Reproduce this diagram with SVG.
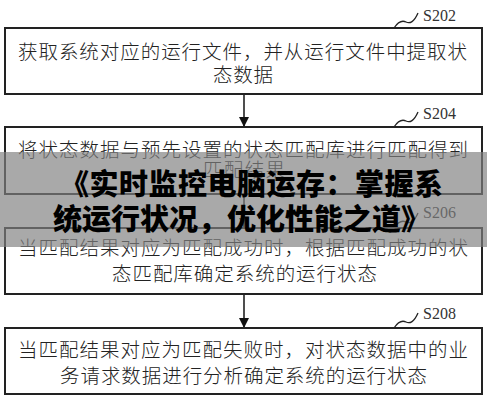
<svg xmlns="http://www.w3.org/2000/svg" width="487" height="400" viewBox="0 0 487 400">
<style>
.box{fill:#fff;stroke:#222;stroke-width:2}
.t{font-family:"Noto Sans CJK SC","Noto Sans",sans-serif;font-size:19.5px;font-weight:300;fill:#222;dominant-baseline:central}
.lbl{font-family:"Liberation Serif",serif;font-size:16px;fill:#333;dominant-baseline:central}
.sq{fill:none;stroke:#222;stroke-width:1.3}
.conn{stroke:#222;stroke-width:1.6;fill:none}
.ban{font-family:"Noto Sans CJK SC",sans-serif;font-size:29px;font-weight:900;fill:#000;dominant-baseline:central}
</style>
<defs>
<marker id="ah" markerWidth="10" markerHeight="12" refX="9" refY="5" orient="auto" markerUnits="userSpaceOnUse">
<path d="M0,0 L10,5 L0,10 Z" fill="#111"/>
</marker>
</defs>
<rect width="487" height="400" fill="#fff"/>
<g id="connectors">
<line class="conn" x1="244" y1="94" x2="244" y2="126" marker-end="url(#ah)"/>
<line class="conn" x1="244" y1="194" x2="244" y2="227" marker-end="url(#ah)"/>
<line class="conn" x1="244" y1="294" x2="244" y2="327" marker-end="url(#ah)"/>
</g>
<g id="s202">
<rect class="box" x="5" y="28" width="477" height="66"/>
<text class="t" x="18" y="50" textLength="449" lengthAdjust="spacing">获取系统对应的运行文件，并从运行文件中提取状</text>
<text class="t" x="213" y="73" textLength="60" lengthAdjust="spacing">态数据</text>
<path class="sq" d="M394,28 C398,22 402,20 406,22 C410,24 414,22 418,13"/>
<text class="lbl" x="423" y="15">S202</text>
</g>
<g id="s204">
<rect class="box" x="5" y="127" width="477" height="67"/>
<text class="t" x="18" y="148" textLength="450" lengthAdjust="spacing">将状态数据与预先设置的状态匹配库进行匹配得到</text>
<text class="t" x="203" y="168" textLength="82" lengthAdjust="spacing">匹配结果</text>
<path class="sq" d="M394,127 C398,121 402,119 406,121 C410,123 414,121 418,112"/>
<text class="lbl" x="423" y="113">S204</text>
</g>
<g id="s206">
<rect class="box" x="5" y="228" width="477" height="66"/>
<text class="t" x="18" y="246" textLength="450" lengthAdjust="spacing">当匹配结果对应为匹配成功时，根据匹配成功的状</text>
<text class="t" x="112" y="272" textLength="265" lengthAdjust="spacing">态匹配库确定系统的运行状态</text>
<path class="sq" d="M394,228 C398,222 402,220 406,222 C410,224 414,222 418,213"/>
<text class="lbl" x="423" y="212">S206</text>
</g>
<g id="s208">
<rect class="box" x="5" y="328" width="477" height="66"/>
<text class="t" x="18" y="348" textLength="450" lengthAdjust="spacing">当匹配结果对应为匹配失败时，对状态数据中的业</text>
<text class="t" x="60" y="374" textLength="367" lengthAdjust="spacing">务请求数据进行分析确定系统的运行状态</text>
<path class="sq" d="M394,328 C398,322 402,320 406,322 C410,324 414,322 418,313"/>
<text class="lbl" x="423" y="313">S208</text>
</g>
<g id="banner">
<rect x="0" y="152" width="487" height="95" fill="#808080" fill-opacity="0.68"/>
<text class="ban" x="60" y="182" textLength="383" lengthAdjust="spacing">《实时监控电脑运存：掌握系</text>
<text class="ban" x="53" y="217" textLength="377" lengthAdjust="spacing">统运行状况，优化性能之道》</text>
</g>
</svg>
